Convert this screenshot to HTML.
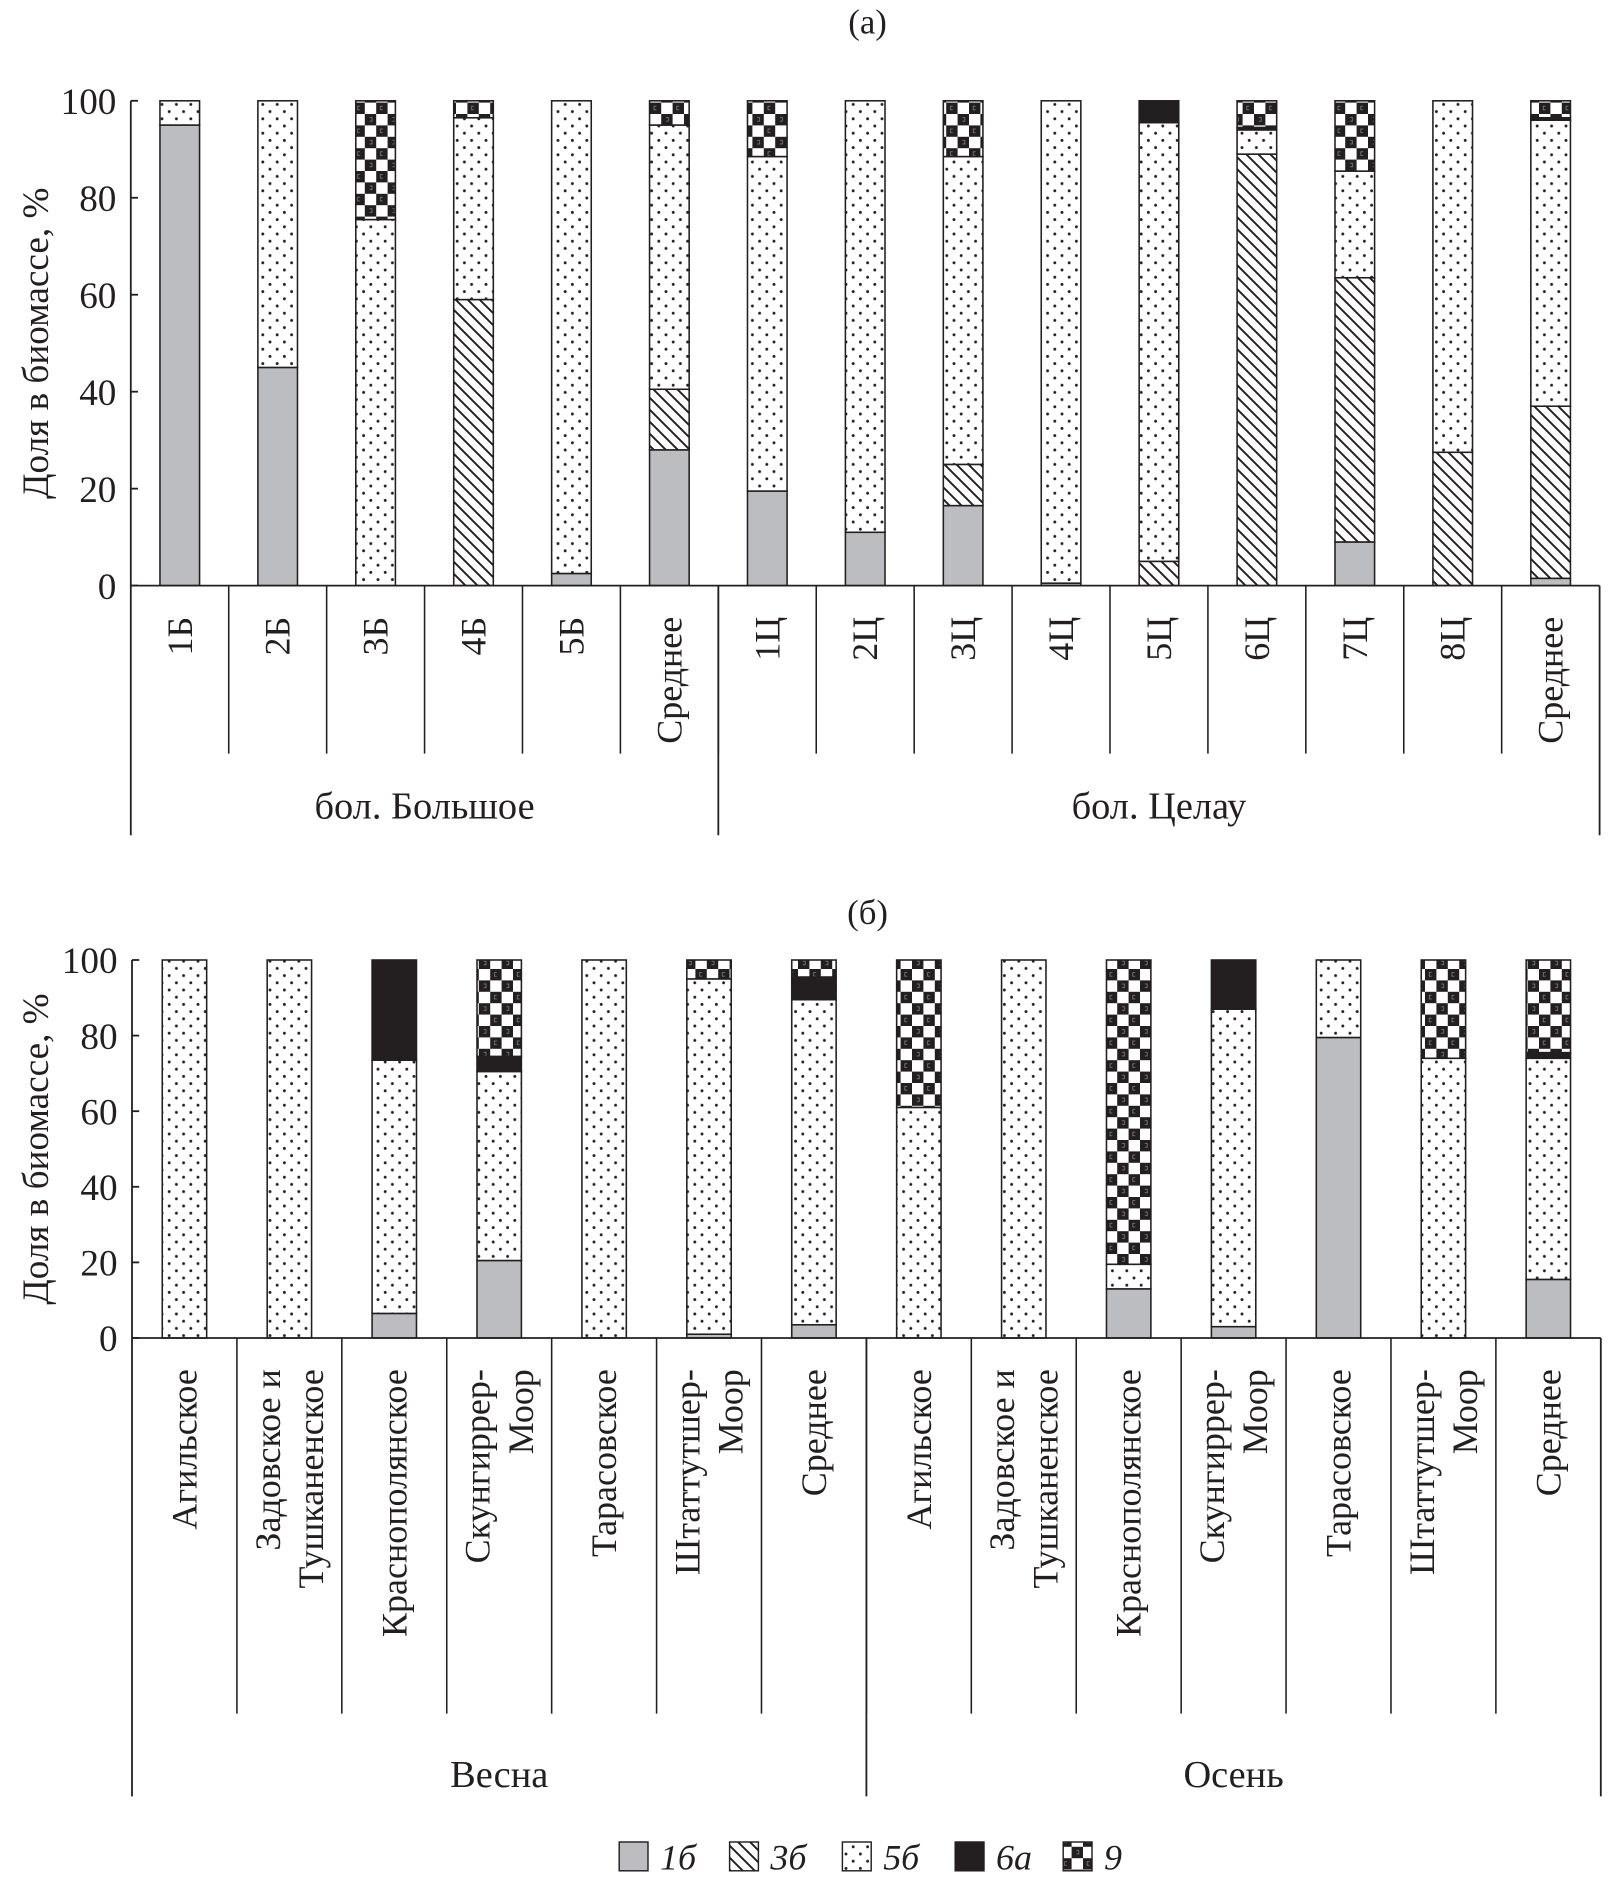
<!DOCTYPE html>
<html><head><meta charset="utf-8"><style>
html,body{margin:0;padding:0;background:#fff}
svg{display:block}
text{font-family:"Liberation Serif",serif;fill:#231f20}
</style></head><body>
<svg id="chart" width="1608" height="1889" viewBox="0 0 1340 1574.17" xmlns="http://www.w3.org/2000/svg">
<defs>
<pattern id="p-dots" patternUnits="userSpaceOnUse" width="12" height="12">
<rect width="12" height="12" fill="#fff"/>
<circle cx="3" cy="3" r="1.2" fill="#231f20"/><circle cx="9" cy="9" r="1.2" fill="#231f20"/>
</pattern>
<pattern id="p-hatch" patternUnits="userSpaceOnUse" width="10" height="10">
<rect width="10" height="10" fill="#fff"/>
<path d="M-2,-2 L12,12 M-2,8 L2,12 M8,-2 L12,2" stroke="#231f20" stroke-width="1.6"/>
</pattern>
<pattern id="p-check" patternUnits="userSpaceOnUse" width="19" height="19">
<rect width="19" height="19" fill="#fff"/>
<rect x="0" y="0" width="9.5" height="9.5" fill="#231f20"/>
<rect x="9.5" y="9.5" width="9.5" height="9.5" fill="#231f20"/>
<path d="M4,3 h2 v3 h-2" stroke="#888" fill="none" stroke-width="0.6"/>
<path d="M15,12.5 h-2 v3 h2" stroke="#888" fill="none" stroke-width="0.6"/>
</pattern>
</defs>
<g id="root"></g>
</svg>
<script>
// series order: 1б, 3б, 5б, 6а, 9
const seriesNames = ["1б","3б","5б","6а","9"];
const catsA = ["1Б","2Б","3Б","4Б","5Б","Среднее","1Ц","2Ц","3Ц","4Ц","5Ц","6Ц","7Ц","8Ц","Среднее"];
const a_1b = [95,45,0,0,2.5,28,19.5,11,16.5,0.5,0,0,9,0,1.5];
const a_3b = [0,0,0,59,0,12.5,0,0,8.5,0,5,89,54.5,27.5,35.5];
const a_5b = [5,55,75.5,37.5,97.5,54.5,69,89,63.5,99.5,90.5,5,22,72.5,59];
const a_6a = [0,0,0,0,0,0,0,0,0,0,4.5,0.5,0,0,0.5];
const a_9  = [0,0,24.5,3.5,0,5,11.5,0,11.5,0,0,5.5,14.5,0,3.5];
const groupsA = ["бол. Большое","бол. Целау"];
const groupSizesA = [6,9];
const catsB = [["Агильское"],["Задовское и","Тушканенское"],["Краснополянское"],["Скунгиррер-","Моор"],["Тарасовское"],["Штаттутшер-","Моор"],["Среднее"],
               ["Агильское"],["Задовское и","Тушканенское"],["Краснополянское"],["Скунгиррер-","Моор"],["Тарасовское"],["Штаттутшер-","Моор"],["Среднее"]];
const b_1b = [0,0,6.5,20.5,0,1,3.5,0,0,13,3,79.5,0,15.5];
const b_3b = [0,0,0,0,0,0,0,0,0,0,0,0,0,0];
const b_5b = [100,100,67,50,100,94,86,61,100,6.5,84,20.5,74,58.5];
const b_6a = [0,0,26.5,4,0,0,6,0,0,0,13,0,0,1.5];
const b_9  = [0,0,0,25.5,0,5,4.5,39,0,80.5,0,0,26,24.5];
const groupsB = ["Весна","Осень"];
const groupSizesB = [7,7];
const yTicks = [0,20,40,60,80,100];
const fills = ["#bcbdc0","url(#p-hatch)","url(#p-dots)","#231f20","url(#p-check)"];

const NS="http://www.w3.org/2000/svg";
const root=document.getElementById('root');
function mk(tag,attrs,parent){const e=document.createElementNS(NS,tag);for(const k in attrs)e.setAttribute(k,attrs[k]);(parent||root).appendChild(e);return e;}

function panel(o){
  const g=mk('g',{});
  
  
  const n=o.cats.length, cw=(o.x1-o.x0)/n, bw=o.bw;
  const y=v=>o.yb-(o.yb-o.yt)*v/100;
  const t=mk('text',{x:723,y:o.titleY,'font-size':29,'text-anchor':'middle'},g);t.textContent=o.title;
  
  
  const yt=mk('text',{x:0,y:0,'font-size':31,'text-anchor':'middle',transform:`translate(40,${(o.yb+o.yt)/2}) rotate(-90)`},g);
  yt.textContent='Доля в биомассе, %';
  
  
  yTicks.forEach(v=>{
    const l=mk('line',{x1:o.x0,x2:o.x0+6,y1:y(v),y2:y(v),stroke:'#231f20','stroke-width':1.5},g);
    
    
    const tx=mk('text',{x:o.x0-12,y:y(v)+11,'font-size':31,'text-anchor':'end'},g);tx.textContent=v;
    
    
  });
  o.cats.forEach((c,i)=>{
    const cx=o.x0+cw*(i+0.5);
    let acc=0;
    o.series.forEach((s,k)=>{
      const v=s[i]; if(v<=0)return;
      const r=mk('rect',{x:cx-bw/2,y:y(acc+v),width:bw,height:y(acc)-y(acc+v),fill:fills[k],stroke:'#231f20','stroke-width':1.3},g);
      
      
      acc+=v;
    });
    const lines=Array.isArray(c)?c:[c];
    lines.forEach((ln,j)=>{
      const off=lines.length===2?(j===0?-18:18):0;
      const tx=mk('text',{x:0,y:0,'font-size':30,'text-anchor':'end',transform:`translate(${cx+off+10},${o.yb+26}) rotate(-90)`},g);
      tx.textContent=ln;
      
      
    });
    if(i>0){
      const d=mk('line',{x1:o.x0+cw*i,x2:o.x0+cw*i,y1:o.yb,y2:o.divY,stroke:'#231f20','stroke-width':1.3},g);
      
      
    }
  });
  let start=0;
  const gx=[o.x0];
  o.gsizes.forEach((s,gi)=>{
    const xa=o.x0+cw*start, xb=o.x0+cw*(start+s);
    gx.push(xb);
    const tx=mk('text',{x:(xa+xb)/2,y:o.grpY,'font-size':32,'text-anchor':'middle'},g);tx.textContent=o.groups[gi];
    
    
    start+=s;
  });
  gx.forEach(xx=>{
    const l=mk('line',{x1:xx,x2:xx,y1:o.yb,y2:o.grpLineY,stroke:'#231f20','stroke-width':1.5},g);
    
    
  });
  const ya=mk('line',{x1:o.x0,x2:o.x0,y1:o.yt,y2:o.yb,stroke:'#231f20','stroke-width':1.5},g);
  
  
  const xa=mk('line',{x1:o.x0,x2:o.x1,y1:o.yb,y2:o.yb,stroke:'#231f20','stroke-width':1.5},g);
  
  
}
panel({name:'panel-a',title:'(а)',titleY:28,cats:catsA,series:[a_1b,a_3b,a_5b,a_6a,a_9],x0:109,x1:1333,yt:84,yb:488,bw:33,divY:628,grpY:682,grpLineY:696,groups:groupsA,gsizes:groupSizesA});
panel({name:'panel-b',title:'(б)',titleY:770,cats:catsB,series:[b_1b,b_3b,b_5b,b_6a,b_9],x0:110,x1:1334,yt:800,yb:1115,bw:37,divY:1428,grpY:1489,grpLineY:1497,groups:groupsB,gsizes:groupSizesB});

// legend
const lg=mk('g',{});


const lx=[516,608,702,796,886];
seriesNames.forEach((s,k)=>{
  const r=mk('rect',{x:lx[k],y:1535,width:24,height:24,fill:fills[k],stroke:'#231f20','stroke-width':1.2},lg);
  
  
  const t=mk('text',{x:lx[k]+34,y:1558,'font-size':30,'font-style':'italic'},lg);t.textContent=s;
  
  
});
</script>
</body></html>
